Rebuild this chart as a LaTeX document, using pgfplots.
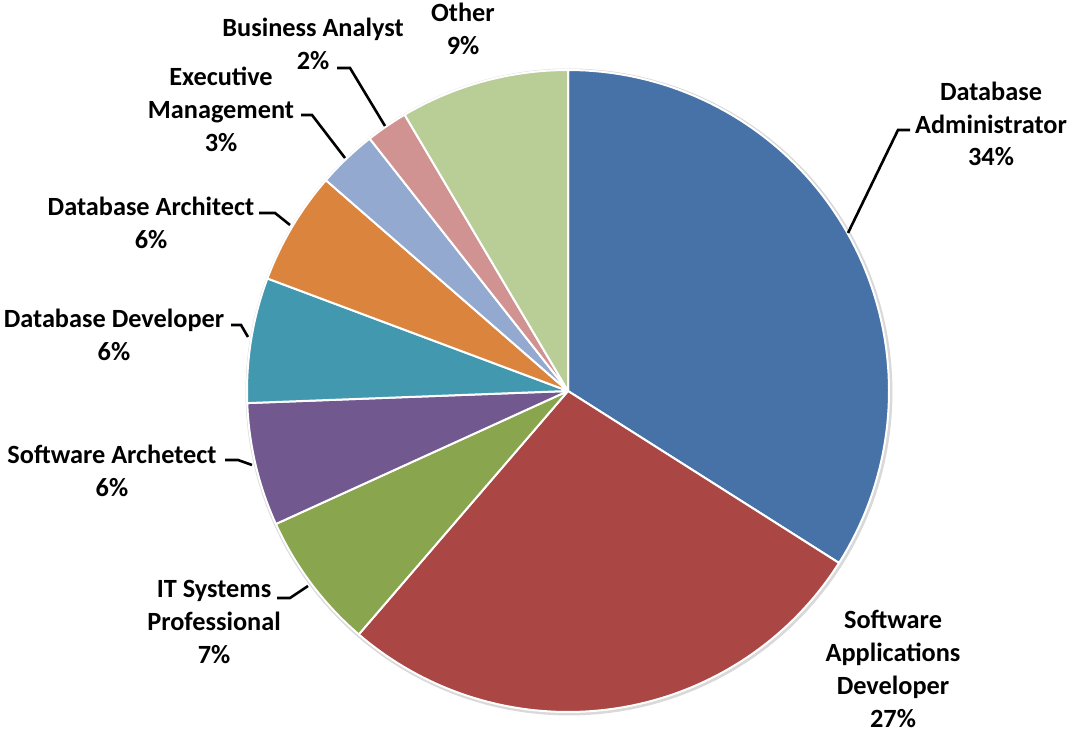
\documentclass[border=0pt]{standalone}
\usepackage{pgfplots}
\usepackage{pgfplotstable}
\usepackage{fontspec}
\setmainfont{Carlito}
\pgfplotsset{compat=1.18}

\definecolor{pc0}{HTML}{4672A7}
\definecolor{pc1}{HTML}{AA4644}
\definecolor{pc2}{HTML}{89A54E}
\definecolor{pc3}{HTML}{71588F}
\definecolor{pc4}{HTML}{4198AF}
\definecolor{pc5}{HTML}{DB843D}
\definecolor{pc6}{HTML}{93A9CF}
\definecolor{pc7}{HTML}{D19392}
\definecolor{pc8}{HTML}{B9CD96}

% share of each job role, in percent, clockwise from 12 o'clock
\pgfplotstableread{
role pct
DatabaseAdministrator 34.0
SoftwareApplicationsDeveloper 27.3
ITSystemsProfessional 6.9
SoftwareArchetect 6.2
DatabaseDeveloper 6.3
DatabaseArchitect 5.7
ExecutiveManagement 3.0
BusinessAnalyst 2.1
Other 8.5
}\piedata

\newcommand{\lf}{\bfseries\fontsize{26.4}{33}\selectfont}

\begin{document}
\begin{tikzpicture}
\gdef\cum{0}
\foreach \i in {0,...,8}{
  \pgfplotstablegetelem{\i}{pct}\of\piedata
  \pgfmathsetmacro\s{\cum*3.6}
  \pgfmathsetmacro\e{(\cum+\pgfplotsretval)*3.6}
  \expandafter\xdef\csname sA\i\endcsname{\s}
  \expandafter\xdef\csname sB\i\endcsname{\e}
  \pgfmathsetmacro\c{\cum+\pgfplotsretval}
  \xdef\cum{\c}
}
\begin{axis}[
  width=1068bp, height=732bp, scale only axis,
  xmin=0, xmax=1068, ymin=0, ymax=732,
  hide axis, clip=false,
]
% faint shadow ring
\addplot[draw=black!15, line width=3pt, domain=0:360, samples=180, variable=\t]
  ({569+322*sin(\t)}, {340+322*cos(\t)});
\pgfplotsinvokeforeach{0,...,8}{
  \addplot[fill=pc#1, draw=white, line width=2pt, line join=round,
    domain=\csname sA#1\endcsname:\csname sB#1\endcsname, samples=80, variable=\t]
    ({568+321*sin(\t)}, {341+321*cos(\t)}) -- (axis cs:568,341) -- cycle;
}

% leader lines (pixel coords, y flipped)
\tikzset{leader/.style={black, line width=2.6pt, line join=miter}}
\draw[leader] (axis cs:910,602) -- (axis cs:898,602) -- (axis cs:848,499);
\draw[leader] (axis cs:337,664) -- (axis cs:350,664) -- (axis cs:385,606);
\draw[leader] (axis cs:301,617) -- (axis cs:312,617) -- (axis cs:345,574);
\draw[leader] (axis cs:259,519) -- (axis cs:275,519) -- (axis cs:290,507);
\draw[leader] (axis cs:231,407) -- (axis cs:241,407) -- (axis cs:248,395);
\draw[leader] (axis cs:225,272) -- (axis cs:238,272) -- (axis cs:252,267);
\draw[leader] (axis cs:277,134) -- (axis cs:290,134) -- (axis cs:308,146);

% labels
\node[align=center, font=\lf] at (axis cs:991,608) {Database\\Administrator\\34\%};
\node[align=center, font=\lf] at (axis cs:893,63) {Software\\Applications\\Developer\\27\%};
\node[align=center, font=\lf] at (axis cs:214,110) {IT Systems\\Professional\\7\%};
\node[align=center, font=\lf] at (axis cs:112,261) {Software Archetect\\6\%};
\node[align=center, font=\lf] at (axis cs:114,397.5) {Database Developer\\6\%};
\node[align=center, font=\lf] at (axis cs:151,509) {Database Architect\\6\%};
\node[align=center, font=\lf] at (axis cs:221,623) {Executive\\Management\\3\%};
\node[align=center, font=\lf] at (axis cs:313,688) {Business Analyst\\2\%};
\node[align=center, font=\lf] at (axis cs:463,703.5) {Other\\9\%};
\end{axis}
\pgfresetboundingbox
\useasboundingbox (current axis.south west) rectangle (current axis.north east);
\end{tikzpicture}
\end{document}
